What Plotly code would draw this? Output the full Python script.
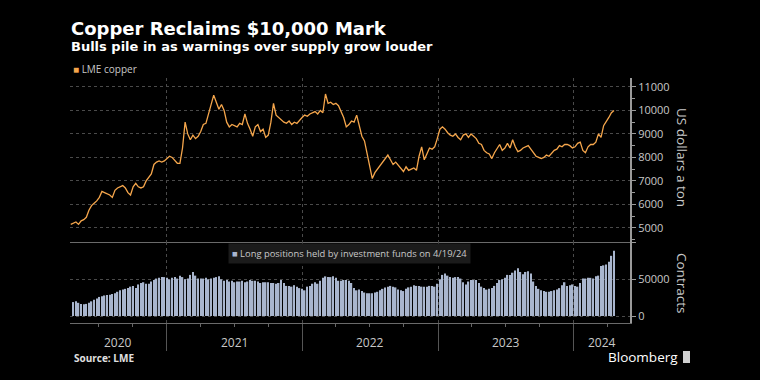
import pandas as pd
import plotly.graph_objects as go

# ---------------- data ----------------
copper_prices = [
    5150, 5200, 5250, 5150, 5300,
    5350, 5450, 5750,
    5950, 6050, 6150, 6300,
    6550, 6500, 6450, 6400, 6300,
    6600, 6700, 6750, 6800, 6700,
    6500, 6400, 6750,
    6900, 6750, 6700, 6750,
    7000, 7150, 7300,
    7700, 7800, 7850, 7800,
    7850, 7950, 8050, 8000,
    7850, 7750, 7750,
    8400,
    9500,
    9000, 8750, 8950, 8800, 8900,
    9100, 9400,
    9450, 9850, 10200, 10650, 10350,
    10050, 10250, 10000,
    9500, 9300,
    9400, 9350, 9300, 9450, 9400,
    9850,
    9450, 9200, 8900,
    9300, 9400, 9100, 9200, 8850, 8950,
    9500,
    10300,
    9800, 9700, 9600, 9500,
    9450, 9550, 9400, 9500, 9450, 9600,
    9700, 9800, 9750, 9850, 9900,
    9950, 9850, 10000, 9900,
    10700,
    10300, 10350, 10250, 10300, 10200,
    9950, 9700,
    9300,
    9400, 9550, 9500, 9800,
    9350, 8900,
    8700, 8200, 7700, 7100, 7350,
    7500, 7650, 7800,
    8000, 8100, 7900,
    7700, 7800, 7650,
    7550, 7400, 7600,
    7450, 7500, 7550, 7450,
    8050, 8450,
    7900, 8150,
    8400, 8350, 8450,
    8800,
    9200, 9300, 9200,
    9050, 8950, 8900, 9000,
    8850, 8750, 8950, 9000,
    8850, 9000, 8900,
    8800, 8600,
    8550, 8300, 8200,
    8150, 7950,
    8200, 8400,
    8550,
    8300, 8400,
    8600,
    8400,
    8750,
    8450, 8250,
    8300, 8400, 8450,
    8500, 8350, 8200,
    8050, 8000, 7950,
    8000, 8100, 8050,
    8200, 8300,
    8350, 8500, 8450,
    8550, 8550, 8500,
    8400, 8450,
    8600, 8650,
    8300, 8200,
    8450, 8550,
    8550, 8650,
    9000,
    8850,
    9350, 9500, 9700, 9900, 10000,
]

fund_longs = [
    19000, 20000, 18000, 16500, 16000, 16500, 18000,
    20000, 22000, 24000, 26000,
    27000, 28000, 28500, 29000, 30000, 31000,
    33000, 35000, 36000, 37000, 38000, 40000, 41000, 38000,
    43000, 45000, 46000, 44000, 44000, 47000, 49000,
    51000, 52000, 53000, 53000, 52000, 50000,
    52000, 53000, 51000, 55000, 53000, 50000, 51000,
    56000, 60000, 55000,
    51000, 51000, 51000, 52000, 50000, 51000, 52000, 53000, 54000,
    50000, 48000, 49000, 47000, 48000, 46000, 47000, 47000, 48000, 46000,
    47000, 49000, 48000, 48000, 47000, 45000,
    46000, 46000, 46000, 45000, 45000, 44000, 45000, 49000,
    45000, 41000, 41000, 40000, 42000, 40000, 38000, 37000, 35000,
    40000, 41000, 44000, 46000, 44000, 48000,
    52000, 54000, 53000, 53000, 54000, 52000,
    48000, 48000, 49000, 49000, 48000, 45000,
    38000, 35000, 36000,
    34000, 32000, 31000, 31000, 31000, 32000, 33000, 35000,
    37000, 39000, 40000, 41000, 40000, 39000,
    36000, 35000, 34000, 37000, 39000, 40000,
    42000, 41000, 41000, 40000, 40000, 40000,
    41000, 41000, 40000, 44000, 50000,
    56000, 58000, 55000, 53000, 52000,
    53000, 53000, 51000, 46000, 43000, 47000,
    49000, 49000, 49000, 45000, 40000, 38000,
    36000, 37000, 38000, 41000, 45000, 49000,
    50000, 52000, 56000, 56000, 59000,
    62000, 65000, 60000, 57000, 60000, 61000,
    58000, 47000, 41000, 37000, 35000, 34000,
    33000, 33000, 34000, 35000, 36000, 38000,
    42000, 46000, 41000, 42000, 43000, 41000,
    40000, 45000, 51000, 51000,
    52000, 52000, 51000, 54000, 55000,
    68000, 69000, 70000, 74000, 82000, 89000,
]

year_labels = ["2020", "2021", "2022", "2023", "2024"]
price_ticks = [5000, 6000, 7000, 8000, 9000, 10000, 11000]
contract_ticks = [0, 50000, 100000]
contract_tick_text = ["0", "50000", ""]
last_date = "2024-04-19"

copper_dates = pd.date_range(end=last_date, periods=len(copper_prices), freq="7D")
fund_dates = pd.date_range(end=last_date, periods=len(fund_longs), freq="7D")

# ---------------- geometry helpers ----------------
W, H = 760, 380
ML, MR, MT, MB = 70, 130, 78, 57
PW, PH = W - ML - MR, H - MT - MB


def px(xp):
    return (xp - ML) / PW


def py(yp):
    return (H - MB - yp) / PH


split = py(242)
x_range = [pd.Timestamp("2020-04-15"), pd.Timestamp("2024-06-01")]

COPPER = "#f5a64c"
BARS = "#a9b6ce"
GRID = "#4a4a4a"
TXT = "#c8c8c8"
FONT = "Open Sans"
HEAD = "DejaVu Sans"

fig = go.Figure()
fig.add_trace(go.Scatter(
    x=copper_dates, y=copper_prices, mode="lines",
    line=dict(color=COPPER, width=1.3), xaxis="x", yaxis="y",
    showlegend=False, hoverinfo="skip",
))
fig.add_trace(go.Bar(
    x=fund_dates, y=fund_longs, marker=dict(color=BARS, line=dict(width=0)),
    xaxis="x2", yaxis="y2", showlegend=False, hoverinfo="skip",
))

common_x = dict(
    range=x_range, type="date", showgrid=True, gridcolor=GRID, griddash="dot",
    gridwidth=1, tick0="2020-01-01", dtick="M12", zeroline=False,
    showticklabels=False,
)

fig.update_layout(
    width=W, height=H,
    margin=dict(l=ML, r=MR, t=MT, b=MB, pad=0),
    paper_bgcolor="black", plot_bgcolor="black",
    font=dict(family=FONT, color=TXT, size=11),
    bargap=0.45,
    xaxis=dict(**common_x, domain=[0, 1], anchor="y", ticks="",
               showline=True, linecolor="#6a6a6a", linewidth=1),
    xaxis2=dict(**common_x, domain=[0, 1], anchor="y2", matches="x",
                showline=True, linecolor="#6a6a6a", linewidth=1,
                ticks="outside", ticklen=27, tickcolor="#555", tickwidth=1,
                minor=dict(dtick="M3", tick0="2020-01-01", ticks="outside",
                           ticklen=3, tickcolor="#666", showgrid=False)),
    yaxis=dict(domain=[split, 1], anchor="x", side="right",
               range=[4400, 11380], tickvals=price_ticks, tickformat="d",
               showgrid=True, gridcolor=GRID, griddash="dot", zeroline=False,
               showline=True, linecolor="#9a9a9a", linewidth=2,
               ticks="outside", ticklen=4, tickcolor="#9a9a9a",
               tickfont=dict(size=11, color=TXT, family=FONT),
               minor=dict(dtick=500, tick0=0, ticks="outside", ticklen=3,
                          tickcolor="#9a9a9a", showgrid=False)),
    yaxis2=dict(domain=[0, split], anchor="x2", side="right",
                range=[-9500, 100800], tickvals=contract_ticks,
                ticktext=contract_tick_text,
                showgrid=True, gridcolor=GRID, griddash="dot", zeroline=False,
                showline=True, linecolor="#9a9a9a", linewidth=2,
                ticks="outside", ticklen=4, tickcolor="#9a9a9a",
                tickfont=dict(size=11, color=TXT, family=FONT)),
)

ann = []
ann.append(dict(text="<b>Copper Reclaims $10,000 Mark</b>", x=px(69), y=py(28),
                xanchor="left", yanchor="middle",
                font=dict(size=18, color="white", family=HEAD)))
ann.append(dict(text="<b>Bulls pile in as warnings over supply grow louder</b>",
                x=px(69), y=py(46.5), xanchor="left", yanchor="middle",
                font=dict(size=13, color="white", family=HEAD)))
ann.append(dict(text=f'<span style="color:{COPPER}">■</span> LME copper',
                x=px(71), y=py(68.5), xanchor="left", yanchor="middle",
                font=dict(size=10, color=TXT, family=FONT)))
ann.append(dict(text=f'<span style="color:{BARS}">■</span> Long positions held by investment funds on 4/19/24',
                x=px(228), y=py(253.5), xanchor="left", yanchor="middle",
                bgcolor="#1b1b1b", borderpad=3,
                font=dict(size=9.4, color=TXT, family=FONT)))
ann.append(dict(text="US dollars a ton", x=px(682), y=py(158), textangle=90,
                xanchor="center", yanchor="middle",
                font=dict(size=13.5, color=TXT, family=FONT)))
ann.append(dict(text="Contracts", x=px(682), y=py(283), textangle=90,
                xanchor="center", yanchor="middle",
                font=dict(size=13.5, color=TXT, family=FONT)))

# year labels centred on the visible part of each year
for lab in year_labels:
    y0 = max(pd.Timestamp(f"{lab}-01-01"), x_range[0])
    y1 = min(pd.Timestamp(f"{int(lab) + 1}-01-01"), x_range[1])
    mid = y0 + (y1 - y0) / 2
    ann.append(dict(text=lab, x=mid, xref="x2", y=py(342), yref="paper",
                    xanchor="center", yanchor="middle", showarrow=False,
                    font=dict(size=12, color=TXT, family=FONT)))

ann.append(dict(text="<b>Source: LME</b>", x=px(72), y=py(358),
                xanchor="left", yanchor="middle",
                font=dict(size=10, color="#e0e0e0", family=FONT)))
ann.append(dict(text="Bloomberg", x=px(680), y=py(357),
                xanchor="right", yanchor="middle",
                font=dict(size=13.5, color="white", family=FONT)))

for a in ann:
    a.setdefault("xref", "paper")
    a.setdefault("yref", "paper")
    a.setdefault("showarrow", False)
fig.update_layout(annotations=ann)

# small logo square next to the wordmark
fig.add_shape(type="rect", xref="paper", yref="paper",
              x0=px(683), x1=px(690), y0=py(363), y1=py(351),
              fillcolor="#d0d0d0", line=dict(width=0))

fig.write_html(
    "out.html",
    config={"displayModeBar": False},
    post_script="document.body.style.margin='0';document.body.style.background='black';",
)
